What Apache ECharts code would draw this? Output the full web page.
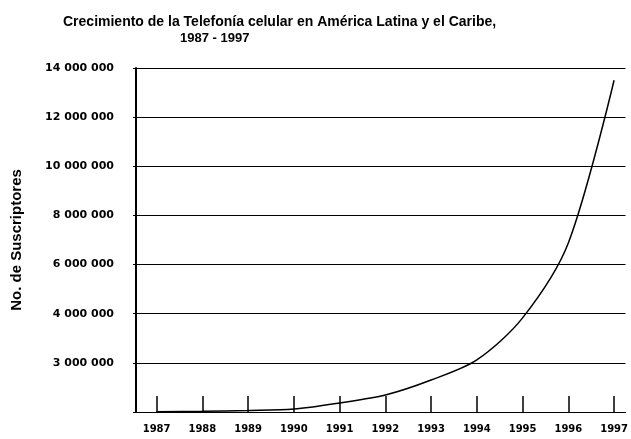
<!DOCTYPE html>
<html>
<head>
<meta charset="utf-8">
<script src="https://cdn.jsdelivr.net/npm/echarts@6/dist/echarts.min.js"></script>
<style>
  html, body { margin: 0; padding: 0; background: #fff; }
  #main { width: 631px; height: 439px; }
</style>
</head>
<body>
<div id="main"></div>
<script>
// años y suscriptores
var years = [1987, 1988, 1989, 1990, 1991, 1992, 1993, 1994, 1995, 1996, 1997];
var subscribers = [10000, 30000, 60000, 120000, 370000, 690000, 1300000, 2120000, 3830000, 6880000, 13500000];
// etiquetas del eje vertical tal como aparecen
var yTicks = [0, 2000000, 4000000, 6000000, 8000000, 10000000, 12000000, 14000000];
var yLabels = ['', '3 000 000', '4 000 000', '6 000 000', '8 000 000', '10 000 000', '12 000 000', '14 000 000'];

var seriesData = [];
for (var i = 0; i < years.length; i++) {
  seriesData.push([years[i], subscribers[i]]);
}

var chart = echarts.init(document.getElementById('main'));
var option = {
  animation: false,
  backgroundColor: '#fff',
  title: [
    {
      text: 'Crecimiento de la Telefonía celular en América Latina y el Caribe,',
      left: 63, top: 15, padding: 0,
      textStyle: { fontFamily: 'Liberation Sans', fontSize: 14, fontWeight: 'bold', color: '#000' }
    },
    {
      text: '1987 - 1997',
      left: 180, top: 32, padding: 0,
      textStyle: { fontFamily: 'Liberation Sans', fontSize: 13, fontWeight: 'bold', color: '#000' }
    }
  ],
  grid: { left: 136, right: 1, top: 68, bottom: 27 },
  xAxis: {
    type: 'value',
    min: 1986.55,
    max: 1997.25,
    axisLine: { lineStyle: { color: '#000', width: 1 } },
    axisTick: { inside: true, length: 16, customValues: years, lineStyle: { color: '#000', width: 1.5 } },
    axisLabel: {
      customValues: years,
      margin: 12,
      fontFamily: 'DejaVu Sans', fontSize: 10, fontWeight: 'bold', color: '#000',
      formatter: function (v) { return String(v); }
    },
    splitLine: { show: false }
  },
  yAxis: {
    type: 'value',
    min: 0,
    max: 14000000,
    interval: 2000000,
    name: 'No. de Suscriptores',
    nameLocation: 'middle',
    nameRotate: 90,
    nameGap: 112,
    nameTextStyle: { fontFamily: 'Liberation Sans', fontSize: 15, fontWeight: 'bold', color: '#000' },
    axisLine: { show: true, lineStyle: { color: '#000', width: 2 } },
    axisTick: { show: true, length: 3, lineStyle: { color: '#000' } },
    axisLabel: {
      margin: 22,
      fontFamily: 'DejaVu Sans', fontSize: 11, fontWeight: 'bold', color: '#000',
      formatter: function (v) {
        var k = yTicks.indexOf(v);
        return k >= 0 ? yLabels[k] : '';
      }
    },
    splitLine: { show: true, lineStyle: { color: '#000', width: 1 } }
  },
  series: [
    {
      type: 'line',
      data: seriesData,
      smooth: 0.3,
      showSymbol: false,
      lineStyle: { color: '#000', width: 1.5 }
    }
  ]
};
chart.setOption(option);
</script>
</body>
</html>
